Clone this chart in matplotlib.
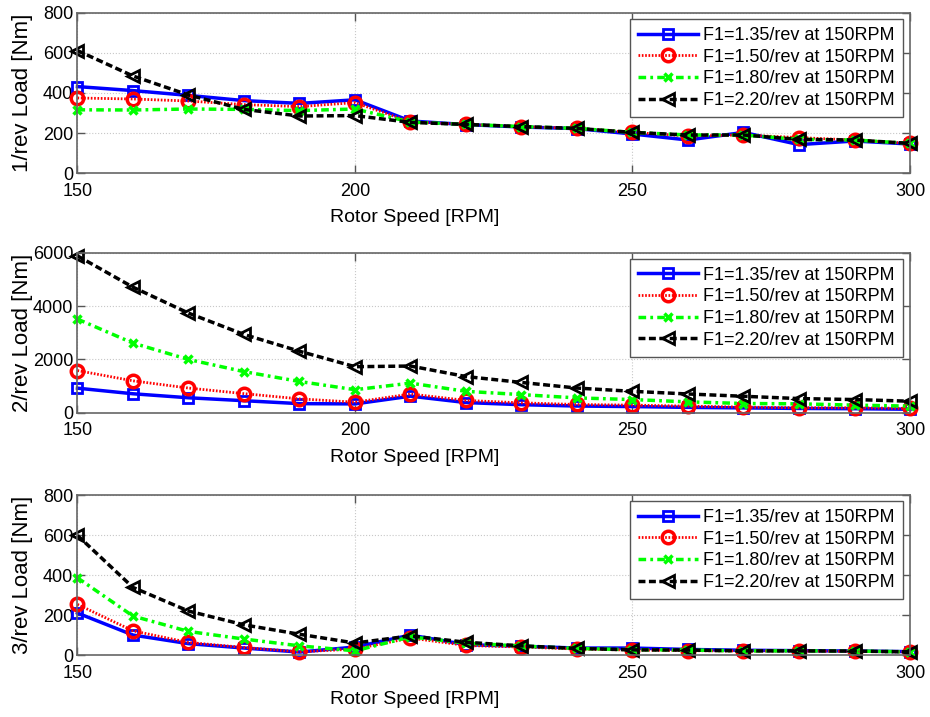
import numpy as np
import matplotlib
matplotlib.use("Agg")
import matplotlib.pyplot as plt

plt.rcParams['font.family'] = ['Liberation Sans', 'DejaVu Sans']

# Rotor speed [RPM]
rpm = [150, 160, 170, 180, 190, 200, 210, 220, 230, 240, 250, 260, 270, 280, 290, 300]

labels = ['F1=1.35/rev at 150RPM', 'F1=1.50/rev at 150RPM',
          'F1=1.80/rev at 150RPM', 'F1=2.20/rev at 150RPM']

# 1/rev load [Nm]
load1_135 = [432, 412, 388, 362, 348, 366, 260, 242, 230, 222, 195, 165, 203, 142, 160, 145]
load1_150 = [375, 370, 360, 342, 332, 352, 255, 243, 232, 223, 203, 185, 190, 177, 165, 148]
load1_180 = [316, 315, 320, 318, 312, 320, 255, 243, 232, 223, 203, 190, 190, 168, 165, 148]
load1_220 = [612, 485, 390, 318, 285, 287, 253, 243, 232, 223, 203, 190, 190, 168, 165, 148]

# 2/rev load [Nm]
load2_135 = [920, 710, 560, 450, 340, 330, 620, 380, 300, 250, 230, 200, 180, 160, 150, 130]
load2_150 = [1580, 1195, 924, 715, 518, 395, 702, 460, 370, 308, 284, 247, 210, 185, 185, 160]
load2_180 = [3510, 2610, 1996, 1540, 1170, 862, 1109, 801, 678, 555, 493, 407, 345, 333, 284, 247]
load2_220 = [5880, 4706, 3734, 2933, 2304, 1725, 1750, 1355, 1134, 924, 801, 702, 616, 530, 493, 431]

# 3/rev load [Nm]
load3_135 = [210, 100, 57, 35, 15, 40, 100, 52, 44, 35, 35, 28, 24, 22, 20, 17]
load3_150 = [253, 121, 63, 38, 16, 30, 85, 48, 40, 30, 25, 22, 20, 20, 18, 15]
load3_180 = [386, 195, 118, 80, 46, 21, 91, 60, 45, 33, 27, 25, 21, 21, 20, 16]
load3_220 = [598, 338, 220, 151, 104, 60, 96, 64, 46, 33, 26, 25, 21, 21, 20, 16]

panels = [
    ([load1_135, load1_150, load1_180, load1_220], '1/rev Load [Nm]', (0, 800), [0, 200, 400, 600, 800]),
    ([load2_135, load2_150, load2_180, load2_220], '2/rev Load [Nm]', (0, 6000), [0, 2000, 4000, 6000]),
    ([load3_135, load3_150, load3_180, load3_220], '3/rev Load [Nm]', (0, 800), [0, 200, 400, 600, 800]),
]

styles = [
    dict(color='#0000ff', ls='-', lw=2.5, marker='s', ms=7, mfc='none', mew=2),
    dict(color='#ff0000', ls=(0, (0.6, 0.6)), lw=2.0, marker='o', ms=9, mfc='none', mew=2.5),
    dict(color='#00ff00', ls=(0, (2.2, 1.2, 0.8, 1.2)), lw=2.5, marker='x', ms=6, mfc='none', mew=2.5),
    dict(color='#000000', ls=(0, (2.0, 1.0)), lw=2.5, marker='<', ms=8, mfc='none', mew=2),
]

fig = plt.figure(figsize=(9.3, 7.17), dpi=100)
tops = [0.9819, 0.6476, 0.3096]
height = 0.2232
left, width = 0.0833, 0.8952

for (series, ylab, ylim, yticks), top in zip(panels, tops):
    ax = fig.add_axes([left, top - height, width, height])
    for data, lab, st in zip(series, labels, styles):
        ax.plot(rpm, data, label=lab, clip_on=False, **st)
    ax.set_xlim(150, 300)
    ax.set_ylim(*ylim)
    ax.set_xticks([150, 200, 250, 300])
    ax.set_yticks(yticks)
    ax.grid(True, color='#c8c8c8', ls=':', lw=0.8)
    ax.tick_params(direction='in', top=True, right=True, length=6, width=1,
                   color='#555555', labelsize=13, pad=3)
    ax.tick_params(axis='x', pad=7)
    for sp in ax.spines.values():
        sp.set_color('#666666')
        sp.set_linewidth(1.2)
    ax.set_ylabel(ylab, fontsize=16)
    ax.yaxis.set_label_coords(-0.053, 0.5)
    ax.set_xlabel('Rotor Speed [RPM]', fontsize=14)
    ax.xaxis.set_label_coords(0.405, -0.225)
    leg = ax.legend(loc='upper right', bbox_to_anchor=(0.9915, 0.963), fontsize=13,
                    fancybox=False, framealpha=1, edgecolor='#555555',
                    handlelength=3.3, labelspacing=0.26, borderpad=0.45,
                    handletextpad=0.3, borderaxespad=0.0)
    leg.get_frame().set_linewidth(1.0)

fig.savefig('out.png', dpi=100)
